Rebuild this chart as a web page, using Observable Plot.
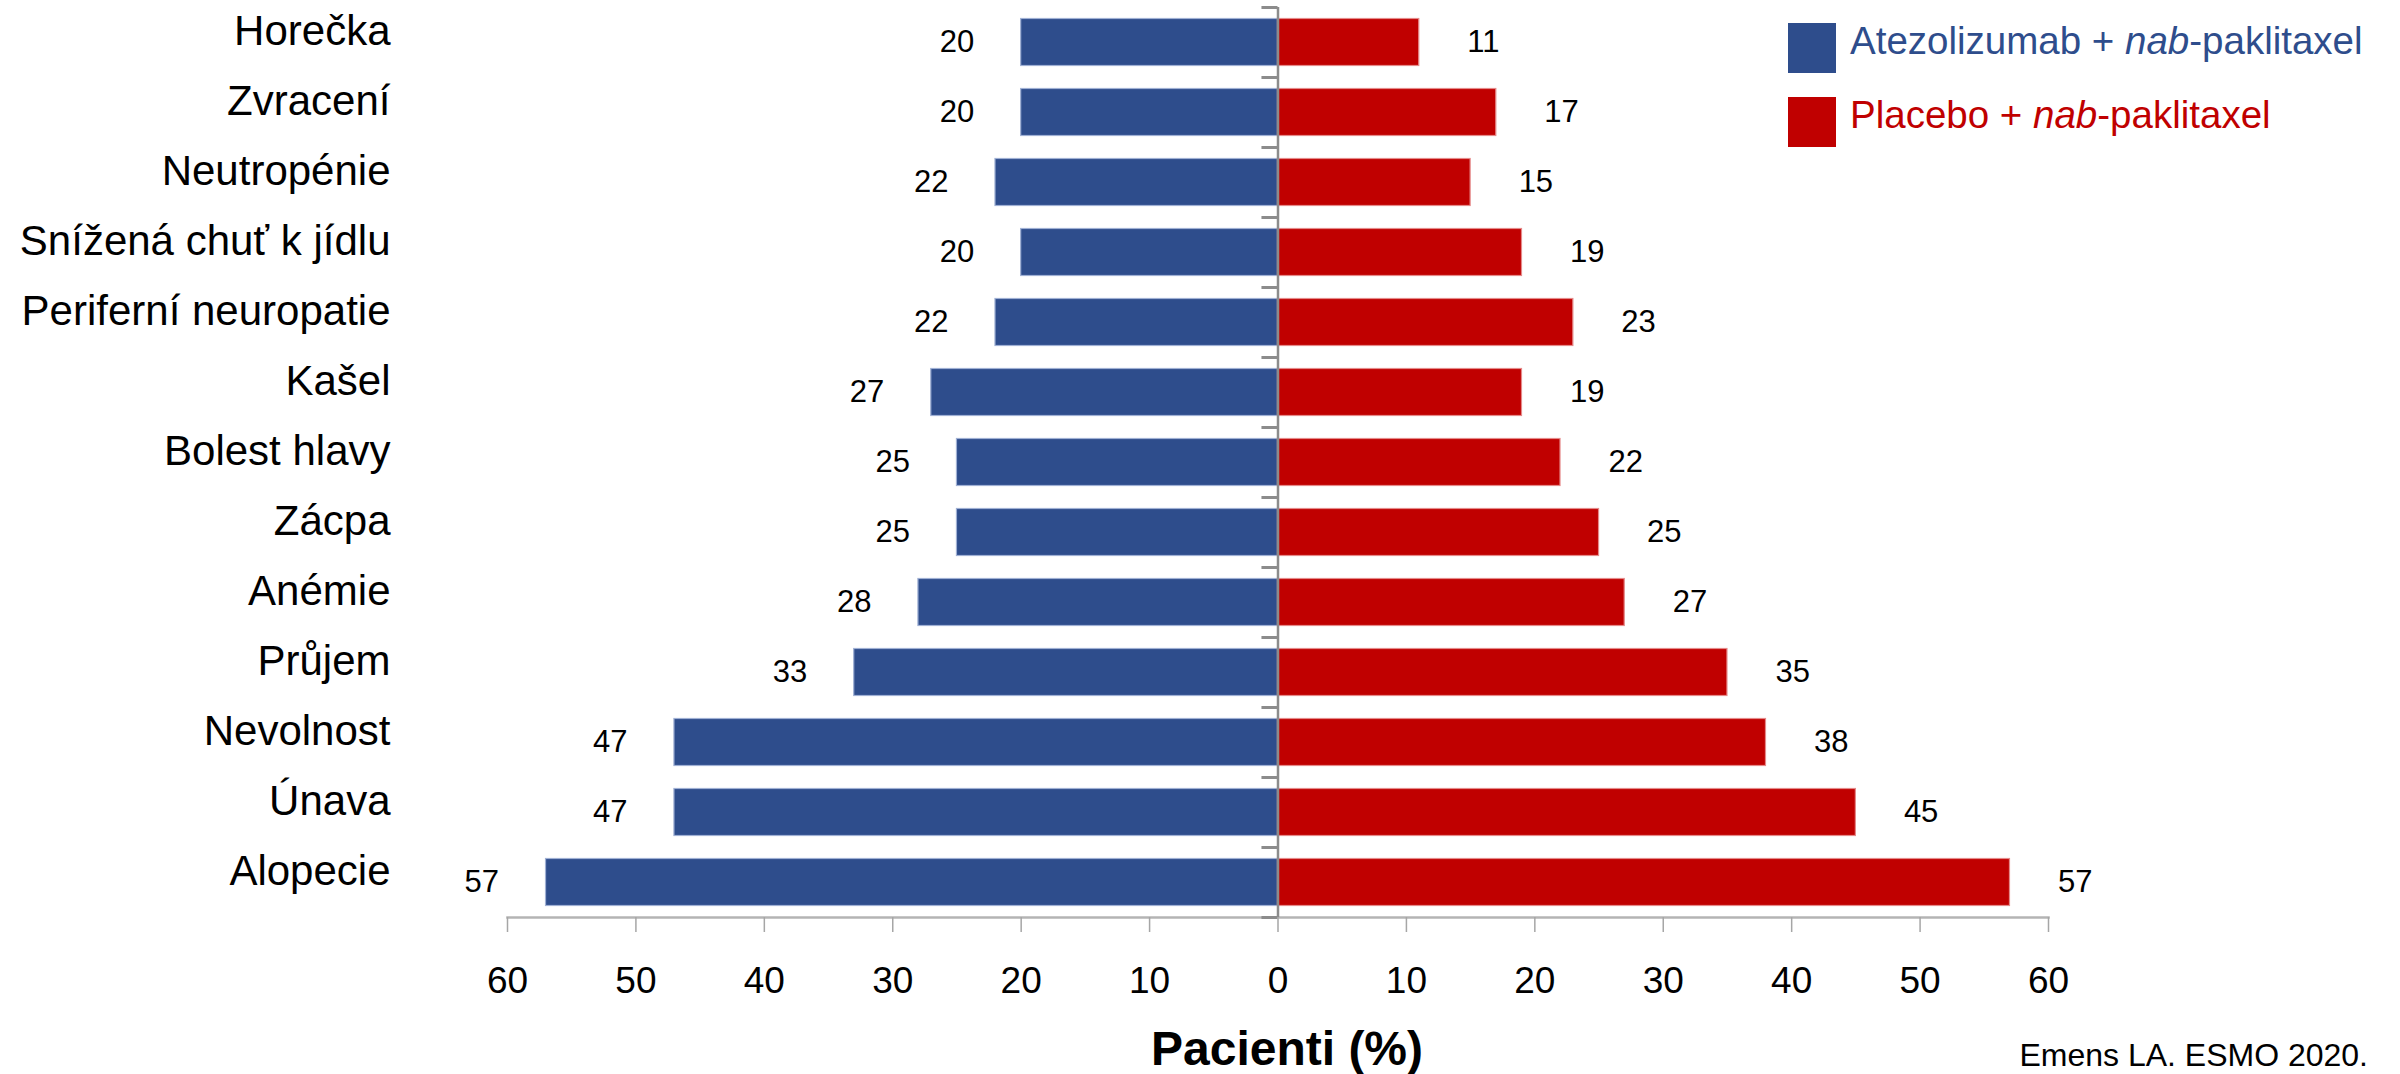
<!DOCTYPE html>
<html>
<head>
<meta charset="utf-8">
<script src="https://cdn.jsdelivr.net/npm/d3@7"></script>
<script src="https://cdn.jsdelivr.net/npm/@observablehq/plot@0.6"></script>
<style>
  html, body { margin: 0; padding: 0; background: #fff; }
  body { font-family: "Liberation Sans", Arial, sans-serif; }
  #wrap { position: relative; width: 2400px; height: 1074px; overflow: hidden; }
  #legend { position: absolute; left: 1788px; top: 23px; }
  .item { display: flex; align-items: center; height: 50px; margin-bottom: 24px; }
  .swatch { width: 48px; height: 50px; margin-right: 14px; flex: none; }
  .item span { font-size: 38.5px; line-height: 1; position: relative; top: -7px; white-space: nowrap; }
  #caption { position: absolute; right: 32px; top: 1039px; font-size: 32px; line-height: 1; color: #000; }
</style>
</head>
<body>
<div id="wrap">
  <div id="chart"></div>
  <div id="legend"></div>
  <div id="caption">Emens LA. ESMO 2020.</div>
</div>
<script>
// Adverse events (% of patients), top to bottom
const categories = [
  "Horečka", "Zvracení", "Neutropénie", "Snížená chuť k jídlu",
  "Periferní neuropatie", "Kašel", "Bolest hlavy", "Zácpa",
  "Anémie", "Průjem", "Nevolnost", "Únava", "Alopecie"
];
const atezolizumab = [20, 20, 22, 20, 22, 27, 25, 25, 28, 33, 47, 47, 57];
const placebo = [11, 17, 15, 19, 23, 19, 22, 25, 27, 35, 38, 45, 57];
const seriesNames = ["Atezolizumab + <i>nab</i>-paklitaxel", "Placebo + <i>nab</i>-paklitaxel"];
const seriesColors = ["#2E4D8C", "#C00000"];
const xTicks = [-60, -50, -40, -30, -20, -10, 0, 10, 20, 30, 40, 50, 60];
const axisTitle = "Pacienti (%)";

const rows = categories.map((c, i) => ({category: c, atezo: atezolizumab[i], placebo: placebo[i]}));

const blue = seriesColors[0], red = seriesColors[1];
const font = "Liberation Sans, Arial, sans-serif";

const chart = Plot.plot({
  width: 2400,
  height: 1074,
  marginTop: 7,
  marginBottom: 157,
  marginLeft: 507,
  marginRight: 352,
  style: {fontFamily: font, background: "white", color: "black"},
  x: {domain: [-60, 60], axis: null},
  y: {domain: categories, padding: 0, axis: null},
  marks: [
    // bottom axis line
    Plot.frame({anchor: "bottom", stroke: "#b4b4b4", strokeWidth: 2.5}),
    // left side: atezolizumab
    Plot.barX(rows, {
      y: "category", x1: () => 0, x2: d => -d.atezo,
      fill: blue, stroke: "#9fb0d4", strokeWidth: 1.2,
      insetTop: 11.5, insetBottom: 11.5
    }),
    // right side: placebo
    Plot.barX(rows, {
      y: "category", x1: () => 0, x2: d => d.placebo,
      fill: red, stroke: "#e58a8a", strokeWidth: 1.2,
      insetTop: 11.5, insetBottom: 11.5
    }),
    // value labels
    Plot.text(rows, {
      y: "category", x: d => -d.atezo, text: d => String(d.atezo),
      textAnchor: "end", dx: -47, fontSize: 31, fill: "black"
    }),
    Plot.text(rows, {
      y: "category", x: d => d.placebo, text: d => String(d.placebo),
      textAnchor: "start", dx: 48, fontSize: 31, fill: "black"
    }),
    // central category axis with boundary ticks
    Plot.ruleX([0], {stroke: "#8c8c8c", strokeWidth: 2.5}),
    Plot.ruleY(categories, {y: d => d, x1: () => -1.25, x2: () => 0, dy: -35, stroke: "#8c8c8c", strokeWidth: 3}),
    Plot.ruleY(categories.slice(-1), {y: d => d, x1: () => -1.25, x2: () => 0, dy: 35, stroke: "#8c8c8c", strokeWidth: 3}),
    // category labels
    Plot.axisY({
      tickSize: 0, tickPadding: 117, fontSize: 42, fill: "black",
      dy: -11, label: null
    }),
    // value axis
    Plot.axisX({
      ticks: xTicks, tickFormat: d => String(Math.abs(d)),
      tickSize: 15, tickPadding: 34, fontSize: 37,
      stroke: "#a6a6a6", strokeWidth: 1.5, fill: "black",
      label: axisTitle, labelAnchor: "center", labelArrow: "none", labelOffset: 147
    })
  ]
});

// Bold, larger axis title
const lbl = chart.querySelector('[aria-label="x-axis label"]');
if (lbl) {
  lbl.setAttribute("font-size", 48);
  lbl.setAttribute("font-weight", "bold");
  lbl.setAttribute("transform", (lbl.getAttribute("transform") || "") + " translate(9,0)");
  lbl.querySelectorAll("text").forEach(t => { t.style.fontSize = "48px"; t.style.fontWeight = "bold"; });
}

document.getElementById("chart").appendChild(chart);

// Legend
const legend = document.getElementById("legend");
seriesNames.forEach((name, i) => {
  const item = document.createElement("div");
  item.className = "item";
  item.innerHTML = `<div class="swatch" style="background:${seriesColors[i]}"></div><span style="color:${seriesColors[i]}">${name}</span>`;
  legend.appendChild(item);
});
</script>
</body>
</html>
